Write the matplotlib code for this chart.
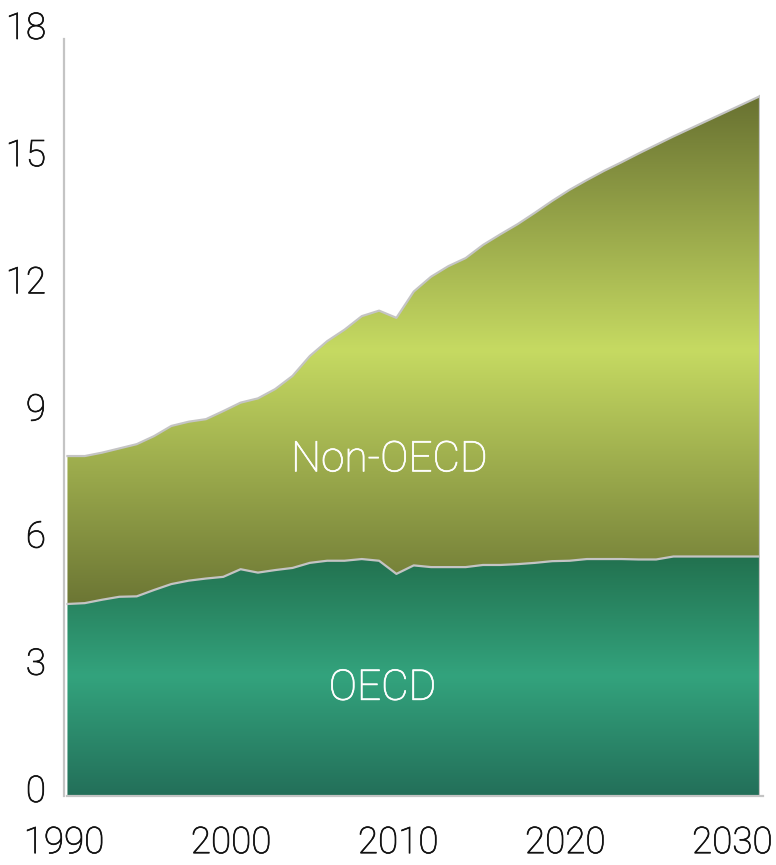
import numpy as np
import matplotlib
matplotlib.use('agg')
import matplotlib.pyplot as plt
import matplotlib.transforms as mtransforms
import matplotlib.patheffects as pe
from matplotlib.colors import LinearSegmentedColormap

# emissions by region, 1990-2030
years = list(range(1990, 2031))
oecd = [4.53, 4.55, 4.63, 4.70, 4.71, 4.86, 5.00, 5.08, 5.13, 5.17,
        5.35, 5.27, 5.33, 5.38, 5.50, 5.55, 5.55, 5.59, 5.55, 5.24,
        5.44, 5.40, 5.40, 5.40, 5.45, 5.45, 5.47, 5.50, 5.54, 5.55,
        5.59, 5.59, 5.59, 5.58, 5.58, 5.65, 5.65, 5.65, 5.65, 5.65,
        5.65]
non_oecd = [3.49, 3.47, 3.47, 3.50, 3.59, 3.63, 3.73, 3.75, 3.76, 3.91,
            3.93, 4.11, 4.27, 4.53, 4.88, 5.18, 5.45, 5.73, 5.90, 6.04,
            6.46, 6.85, 7.10, 7.29, 7.55, 7.80, 8.02, 8.26, 8.50, 8.75,
            8.94, 9.16, 9.36, 9.58, 9.78, 9.91, 10.10, 10.29, 10.48, 10.67,
            10.86]
y_ticks = [0, 3, 6, 9, 12, 15, 18]
x_labels = ['1990', '2000', '2010', '2020', '2030']

plt.rcParams['font.family'] = ['Roboto', 'DejaVu Sans']

x = np.array(years, dtype=float)
low = np.array(oecd)
top = low + np.array(non_oecd)

fig = plt.figure(figsize=(7.76, 8.65), dpi=100)
ax = fig.add_axes([64 / 776, 69 / 865, 696 / 776, 763 / 865])


def gradient_fill(ax, x, y1, y2, stops):
    poly = ax.fill_between(x, y1, y2, facecolor='none', edgecolor='none')
    path = poly.get_paths()[0]
    ext = path.get_extents()
    cmap = LinearSegmentedColormap.from_list('g', stops)
    grad = np.linspace(0, 1, 256).reshape(-1, 1)
    im = ax.imshow(grad, cmap=cmap, origin='lower', aspect='auto',
                   extent=[ext.x0, ext.x1, ext.y0, ext.y1], zorder=1,
                   interpolation='bilinear')
    im.set_clip_path(path, ax.transData)
    return poly


# bottom -> middle -> top colours
gradient_fill(ax, x, 0, low, ['#236f59', '#33a37d', '#22714f'])
gradient_fill(ax, x, low, top, ['#6c7634', '#c6da62', '#687131'])

edge = '#c4c4c4'
ax.plot(x, low, color=edge, lw=1.6, zorder=3)
ax.plot(x, top, color=edge, lw=1.6, zorder=3)
ax.plot([x[-1], x[-1]], [0, top[-1]], color=edge, lw=1.6, zorder=3)

ax.set_xlim(1990, 2030)
ax.set_ylim(0, 18)

for s in ['top', 'right']:
    ax.spines[s].set_visible(False)
for s in ['left', 'bottom']:
    ax.spines[s].set_color('#c4c4c4')
    ax.spines[s].set_linewidth(1.6)
ax.spines['left'].set_bounds(0, 17.85)
ax.spines['bottom'].set_bounds(1990, 2030.2)

ax.set_yticks(y_ticks)
ax.set_yticklabels([str(t) for t in y_ticks])
# labels are spread evenly so the last one stays inside the figure
ax.set_xticks(np.linspace(1989.8, 2028.4, len(x_labels)))
ax.set_xticklabels(x_labels)
ax.tick_params(axis='both', length=0, labelsize=26.5, colors='#111111')
ax.tick_params(axis='y', pad=13)
ax.tick_params(axis='x', pad=21)

# light face, thickened a touch
thick = [pe.withStroke(linewidth=0.5, foreground='#111111')]
lift = mtransforms.ScaledTranslation(0, 8 / 100, fig.dpi_scale_trans)
for lab in ax.get_yticklabels():
    lab.set_transform(lab.get_transform() + lift)
for lab in ax.get_yticklabels() + ax.get_xticklabels():
    lab.set_fontweight('light')
    lab.set_path_effects(thick)

white_thick = [pe.withStroke(linewidth=0.5, foreground='white')]
ax.text(2008.6, 7.93, 'Non-OECD', color='white', fontsize=30.5,
        fontweight='light', ha='center', va='center', zorder=4,
        path_effects=white_thick)
ax.text(2008.2, 2.54, 'OECD', color='white', fontsize=30.5,
        fontweight='light', ha='center', va='center', zorder=4,
        path_effects=white_thick)

fig.savefig('out.png', dpi=100)
plt.close(fig)
